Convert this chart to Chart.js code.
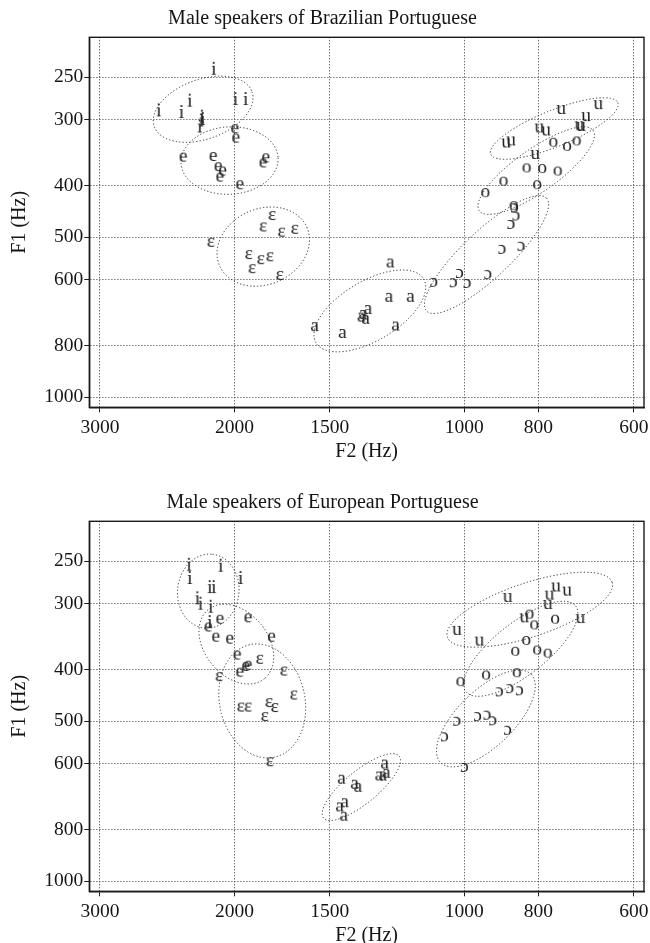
<!DOCTYPE html>
<html><head><meta charset="utf-8">
<script src="https://cdn.jsdelivr.net/npm/chart.js@4.4.1/dist/chart.umd.min.js"></script>
<style>
html,body{margin:0;padding:0;background:#fff;width:650px;height:943px;overflow:hidden;}
.wrap{position:absolute;left:0;width:650px;height:464px;}
canvas{display:block;}
</style></head><body>
<div class="wrap" style="top:0px"><canvas id="c1" width="650" height="464"></canvas></div>
<div class="wrap" style="top:484px"><canvas id="c2" width="650" height="464"></canvas></div>
<script>
const VOWELS = ['i', 'e', 'ɛ', 'a', 'ɔ', 'o', 'u'];
const X_TICKS = [600, 800, 1000, 1500, 2000, 3000];
const Y_TICKS = [250, 300, 400, 500, 600, 800, 1000];
const X_RANGE = [581.8, 3098];
const Y_RANGE = [210.2, 1044.3];
const TITLE_BP = 'Male speakers of Brazilian Portuguese';
const TITLE_EP = 'Male speakers of European Portuguese';
const X_LABEL = 'F2 (Hz)';
const Y_LABEL = 'F1 (Hz)';

// Brazilian Portuguese (F2, F1 in Hz)
const BP_i_F2 = [2128, 2288, 1994, 1933, 2512, 2346, 2205, 2200, 2209, 2220];
const BP_i_F1 = [243, 279, 277, 277, 291, 293, 299, 302, 304, 312];
const BP_e_F2 = [1998, 1992, 2335, 2133, 2101, 2073, 2090, 1968, 1835, 1820];
const BP_e_F1 = [313, 326, 354, 353, 369, 376, 386, 399, 363, 355];
const BP_E_F2 = [1786, 1835, 1736, 1668, 2148, 1916, 1848, 1798, 1897, 1745];
const BP_E_F1 = [456, 479, 490, 484, 512, 540, 552, 545, 574, 591];
const BP_a_F2 = [1251, 1256, 1177, 1338, 1365, 1347, 1358, 1231, 1571, 1445];
const BP_a_F1 = [560, 650, 650, 685, 708, 715, 700, 736, 738, 760];
const BP_O_F2 = [1097, 1034, 1015, 992, 932, 893, 843, 869, 856, 860];
const BP_O_F1 = [609, 610, 586, 612, 589, 528, 521, 474, 457, 441];
const BP_o_F2 = [939, 889, 829, 791, 755, 803, 765, 734, 713, 862];
const BP_o_F1 = [413, 393, 371, 372, 376, 399, 332, 338, 330, 437];
const BP_u_F2 = [882, 869, 798, 782, 808, 747, 668, 693, 707, 704];
const BP_u_F1 = [333, 330, 312, 316, 350, 288, 282, 297, 309, 310];

// European Portuguese (F2, F1 in Hz)
const EP_i_F2 = [2293, 2288, 2084, 1963, 2154, 2128, 2236, 2215, 2148, 2154];
const EP_i_F1 = [256, 271, 257, 271, 282, 282, 296, 303, 307, 328];
const EP_e_F2 = [2090, 1920, 2165, 2116, 2029, 1789, 1984, 1968, 1933, 1920];
const EP_e_F1 = [322, 320, 333, 348, 351, 348, 376, 405, 395, 393];
const EP_E_F2 = [1854, 2095, 1724, 1673, 1963, 1920, 1803, 1772, 1826, 1798];
const EP_E_F1 = [383, 413, 403, 447, 471, 471, 462, 472, 491, 597];
const EP_a_F2 = [1449, 1393, 1379, 1294, 1279, 1266, 1272, 1457, 1435, 1439];
const EP_a_F1 = [644, 658, 667, 635, 635, 628, 603, 726, 713, 756];
const EP_O_F2 = [1000, 1062, 1023, 961, 934, 918, 878, 900, 872, 847];
const EP_O_F1 = [612, 536, 501, 491, 488, 500, 521, 441, 435, 439];
const EP_o_F2 = [1012, 937, 854, 858, 830, 803, 778, 822, 810, 761];
const EP_o_F1 = [422, 410, 406, 370, 353, 368, 373, 315, 330, 322];
const EP_u_F2 = [1023, 956, 878, 835, 778, 774, 759, 734, 705];
const EP_u_F1 = [338, 354, 293, 320, 302, 290, 280, 285, 321];

const BP = {'i':[BP_i_F2,BP_i_F1],'e':[BP_e_F2,BP_e_F1],'ɛ':[BP_E_F2,BP_E_F1],'a':[BP_a_F2,BP_a_F1],'ɔ':[BP_O_F2,BP_O_F1],'o':[BP_o_F2,BP_o_F1],'u':[BP_u_F2,BP_u_F1]};
const EP = {'i':[EP_i_F2,EP_i_F1],'e':[EP_e_F2,EP_e_F1],'ɛ':[EP_E_F2,EP_E_F1],'a':[EP_a_F2,EP_a_F1],'ɔ':[EP_O_F2,EP_O_F1],'o':[EP_o_F2,EP_o_F1],'u':[EP_u_F2,EP_u_F1]};

const SERIF = '"Liberation Serif", "DejaVu Serif", "Times New Roman", serif';
const INK = '#151515';
const ELLIPSE_K = 2.0;

function glyph(ch) {
  const size = 19.5;
  const m = document.createElement('canvas').getContext('2d');
  m.font = size + 'px ' + SERIF;
  const w = Math.ceil(m.measureText(ch).width) + 4;
  const c = document.createElement('canvas');
  c.width = w; c.height = 32;
  const g = c.getContext('2d');
  g.font = size + 'px ' + SERIF;
  g.fillStyle = '#222';
  g.textAlign = 'center';
  g.textBaseline = 'alphabetic';
  g.fillText(ch, w / 2, 16 + 0.46 * size / 2);
  return c;
}

const ellipsePlugin = {
  id: 'ellipses',
  beforeDatasetsDraw(chart) {
    const ctx = chart.ctx;
    ctx.save();
    ctx.strokeStyle = '#2a2a2a';
    ctx.lineWidth = 1;
    ctx.setLineDash([1.2, 2.2]);
    chart.data.datasets.forEach((ds, i) => {
      const pts = chart.getDatasetMeta(i).data;
      const n = pts.length;
      if (n < 3) return;
      let mx = 0, my = 0;
      pts.forEach(p => { mx += p.x; my += p.y; });
      mx /= n; my /= n;
      let a = 0, b = 0, c = 0;
      pts.forEach(p => { const dx = p.x - mx, dy = p.y - my; a += dx * dx; b += dx * dy; c += dy * dy; });
      a /= (n - 1); b /= (n - 1); c /= (n - 1);
      const t = (a + c) / 2, d = Math.sqrt(((a - c) / 2) ** 2 + b * b);
      const l1 = t + d, l2 = Math.max(t - d, 0);
      const ang = 0.5 * Math.atan2(2 * b, a - c);
      ctx.beginPath();
      ctx.ellipse(mx, my, ELLIPSE_K * Math.sqrt(l1), ELLIPSE_K * Math.sqrt(l2), ang, 0, 2 * Math.PI);
      ctx.stroke();
    });
    ctx.restore();
  }
};

const framePlugin = {
  id: 'frame',
  afterDraw(chart) {
    const {left, top, width, height} = chart.chartArea;
    const ctx = chart.ctx;
    ctx.save();
    ctx.strokeStyle = '#1a1a1a';
    ctx.lineWidth = 1.4;
    ctx.strokeRect(left, top, width, height);
    ctx.restore();
  }
};

function makeChart(id, title, table) {
  const datasets = VOWELS.map(v => ({
    label: v,
    data: table[v][0].map((x, k) => ({x: x, y: table[v][1][k]})),
    pointStyle: glyph(v),
    pointRadius: 5,
    showLine: false
  }));
  const tickFont = {family: SERIF, size: 19.5, weight: 'normal'};
  const titleFont = {family: SERIF, size: 20, weight: 'normal'};
  new Chart(document.getElementById(id), {
    type: 'scatter',
    data: {datasets},
    options: {
      responsive: false,
      animation: false,
      events: [],
      layout: {padding: {left: 0, right: 5, top: 0, bottom: 0}},
      plugins: {
        legend: {display: false},
        tooltip: {enabled: false},
        title: {display: true, text: title, color: INK, font: titleFont, padding: {top: 6.5, bottom: 6.8}}
      },
      scales: {
        x: {
          type: 'logarithmic', reverse: true, min: X_RANGE[0], max: X_RANGE[1],
          afterBuildTicks: s => { s.ticks = X_TICKS.map(v => ({value: v})); },
          afterFit: s => { s.height = 56.7; },
          ticks: {autoSkip: false, maxRotation: 0, color: INK, font: tickFont, padding: 4.3, callback: v => String(v)},
          grid: {color: '#333', lineWidth: 1, tickLength: 5, tickColor: '#1a1a1a', tickBorderDash: []},
          border: {display: true, color: '#1a1a1a', width: 1.4, dash: [1, 2]},
          title: {display: true, text: X_LABEL, color: INK, font: titleFont, padding: {top: 0, bottom: 0.3}}
        },
        y: {
          type: 'logarithmic', reverse: true, min: Y_RANGE[0], max: Y_RANGE[1],
          afterBuildTicks: s => { s.ticks = Y_TICKS.map(v => ({value: v})); },
          afterFit: s => { s.width = 89.3; },
          ticks: {autoSkip: false, color: INK, font: tickFont, padding: 1, callback: v => String(v)},
          grid: {color: '#333', lineWidth: 1, tickLength: 5, tickColor: '#1a1a1a', tickBorderDash: []},
          border: {display: true, color: '#1a1a1a', width: 1.4, dash: [1, 2]},
          title: {display: true, text: Y_LABEL, color: INK, font: titleFont, padding: {top: 8, bottom: 0}}
        }
      }
    },
    plugins: [ellipsePlugin, framePlugin]
  });
}

makeChart('c1', TITLE_BP, BP);
makeChart('c2', TITLE_EP, EP);
</script>
</body></html>
